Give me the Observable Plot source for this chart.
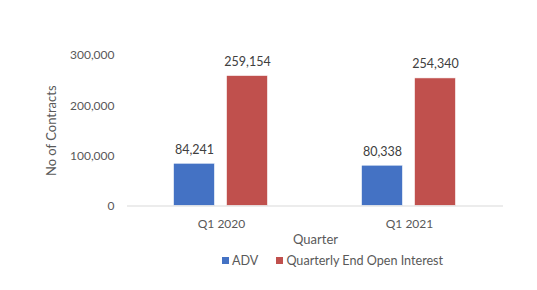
<!DOCTYPE html>
<html>
<head>
<meta charset="utf-8">
<script src="https://cdn.jsdelivr.net/npm/d3@7"></script>
<script src="https://cdn.jsdelivr.net/npm/@observablehq/plot@0.6"></script>
<style>
  html, body { margin: 0; padding: 0; background: #fff; }
  body { width: 537px; height: 290px; position: relative; font-family: Lato, "Liberation Sans", sans-serif; overflow: hidden; }
  #legend { position: absolute; left: 222px; top: 253px; display: flex; align-items: center; font-size: 12.6px; color: #595959; white-space: nowrap; }
  #legend .item { display: flex; align-items: center; margin-right: 18px; }
  #legend .sw { width: 7px; height: 7px; margin-right: 3px; }
</style>
</head>
<body>
<div id="chart"></div>
<div id="legend"></div>
<script>
const quarters = ["Q1 2020", "Q1 2021"];
const seriesNames = ["ADV", "Quarterly End Open Interest"];
const advValues = [84241, 80338];
const oiValues = [259154, 254340];
const yTicks = [0, 100000, 200000, 300000];
const colors = ["#4472C4", "#C0504D"];

const data = [];
quarters.forEach((q, i) => {
  data.push({quarter: q, series: seriesNames[0], value: advValues[i]});
  data.push({quarter: q, series: seriesNames[1], value: oiValues[i]});
});

const fmt = d3.format(",");

const chart = Plot.plot({
  width: 537,
  height: 250,
  marginLeft: 126.5,
  marginRight: 34,
  marginTop: 55,
  marginBottom: 44.5,
  style: {fontFamily: "Lato, 'Liberation Sans', sans-serif", fontSize: "12px", color: "#595959", background: "#fff"},
  fx: {domain: quarters, padding: 0, label: "Quarter"},
  x: {domain: seriesNames, paddingInner: 0.222, paddingOuter: 0.855, axis: null},
  y: {domain: [0, 300000], ticks: yTicks, tickFormat: fmt},
  color: {domain: seriesNames, range: colors},
  marks: [
    Plot.axisY({ticks: yTicks, tickFormat: fmt, tickSize: 0, tickPadding: 13, label: null, fontSize: 12, fill: "#595959"}),
    Plot.text(["No of Contracts"], {frameAnchor: "left", dx: -76, rotate: -90, textAnchor: "middle", fontSize: 13, fill: "#595959", lineAnchor: "middle", facet: "super"}),
    Plot.axisFx({anchor: "bottom", tickSize: 0, tickPadding: 13, label: null, fontSize: 12, fill: "#595959"}),
    Plot.text(["Quarter"], {frameAnchor: "bottom", dy: 33.5, fontSize: 13, fill: "#595959", lineAnchor: "middle", facet: "super"}),
    Plot.barY(data, {fx: "quarter", x: "series", y: "value", fill: "series", stroke: "#fff", strokeWidth: 0.6}),
    Plot.ruleY([0], {stroke: "#d9d9d9", strokeWidth: 1}),
    Plot.text(data, {fx: "quarter", x: "series", y: "value", text: d => fmt(d.value), dy: -14, fill: "#404040", fontSize: 12.5, lineAnchor: "middle"})
  ]
});
document.getElementById("chart").appendChild(chart);

const legend = document.getElementById("legend");
seriesNames.forEach((s, i) => {
  const item = document.createElement("div");
  item.className = "item";
  const sw = document.createElement("div");
  sw.className = "sw";
  sw.style.background = colors[i];
  const t = document.createElement("span");
  t.textContent = s;
  item.appendChild(sw);
  item.appendChild(t);
  legend.appendChild(item);
});
</script>
</body>
</html>
